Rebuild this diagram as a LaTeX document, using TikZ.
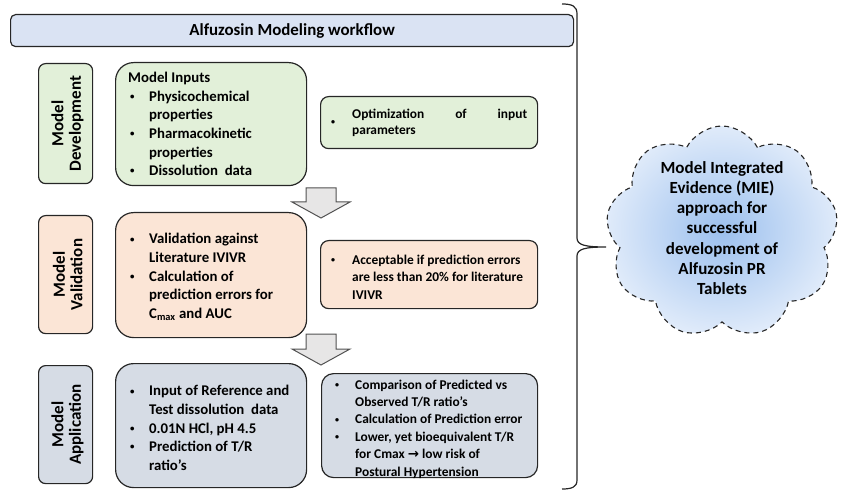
\documentclass[tikz,border=0pt]{standalone}
\usepackage{fontspec}
\setmainfont{Carlito}
\newfontfamily\djv{DejaVu Sans}
\usetikzlibrary{shapes.symbols,calc}
\definecolor{titleblue}{HTML}{DAE3F3}
\definecolor{devgreen}{HTML}{E2F0D9}
\definecolor{valpeach}{HTML}{FBE5D6}
\definecolor{appgray}{HTML}{D6DCE5}
\definecolor{arrowgray}{HTML}{E7E6E6}
\definecolor{cloudin}{HTML}{9CC0EE}
\definecolor{cloudout}{HTML}{E0EBFA}
\definecolor{edge}{HTML}{262626}
\newcommand{\dotb}{\raisebox{0.12em}{\scalebox{0.6}{\textbullet}}}
\newcommand{\bl}{\makebox[21pt][l]{\hspace{2pt}\dotb}}
\newcommand{\ind}{\hspace*{21pt}}
\newcommand{\blr}{\makebox[21pt][l]{\dotb}}
\newcommand{\blc}{\makebox[20pt][l]{\dotb}}
\newcommand{\indc}{\hspace*{20pt}}
\begin{document}
\begin{tikzpicture}[x=1pt,y=-1pt,
  panel/.style={draw=edge, line width=1.2pt, inner sep=0pt, anchor=north west},
  mainfs/.style={font=\bfseries\fontsize{14.8}{18.6}\selectfont},
  sidefs/.style={font=\bfseries\fontsize{13.4}{17.4}\selectfont},
  labelfs/.style={font=\bfseries\fontsize{17}{17.5}\selectfont},
  txt/.style={inner sep=0pt, align=left, anchor=west},
  blockarrow/.style={draw=edge!80, line width=1pt, fill=arrowgray, line join=miter}]
\useasboundingbox (0,0) rectangle (850,502);

% title
\node[panel, fill=titleblue, rounded corners=5pt, minimum width=563pt, minimum height=32pt] (title) at (10,14) {};
\node[font=\bfseries\fontsize{16.9}{18}\selectfont, inner sep=0pt] (titletxt) at (title.center) {Alfuzosin Modeling workflow};

% stage labels
\node[panel, fill=devgreen, rounded corners=7pt, minimum width=54pt, minimum height=120pt] (ldev) at (38,63) {};
\node[labelfs, rotate=90, align=center, inner sep=0pt] (ldevt) at ($(ldev.center)+(2,0)$) {Model\\Development};
\node[panel, fill=valpeach, rounded corners=7pt, minimum width=54pt, minimum height=118pt] (lval) at (38,215) {};
\node[labelfs, rotate=90, align=center, inner sep=0pt] (lvalt) at ($(lval.center)+(2,0)$) {Model\\Validation};
\node[panel, fill=appgray, rounded corners=7pt, minimum width=54pt, minimum height=118pt] (lapp) at (38,365) {};
\node[labelfs, rotate=90, align=center, inner sep=0pt] (lappt) at ($(lapp.center)+(2,0)$) {Model\\Application};

% main boxes
\node[panel, fill=devgreen, rounded corners=18pt, minimum width=191pt, minimum height=123pt] (dev) at (115,62) {};
\node[txt, mainfs] (devt) at (128,124) {Model Inputs\\
\bl Physicochemical\\ \ind properties\\ \bl Pharmacokinetic\\ \ind properties\\ \bl Dissolution\ \ data};
\node[panel, fill=valpeach, rounded corners=18pt, minimum width=191pt, minimum height=125pt] (val) at (115,212) {};
\node[txt, mainfs] (valt) at (128,277) {\bl Validation against\\ \ind Literature IVIVR\\ \bl Calculation of\\ \ind prediction errors for\\ \ind C\textsubscript{max} and AUC};
\node[panel, fill=appgray, rounded corners=18pt, minimum width=191pt, minimum height=124pt] (app) at (115,363) {};
\node[txt, mainfs] (appt) at (128,428) {\bl Input of Reference and\\ \ind Test dissolution\ \ data\\ \bl 0.01N HCl, pH 4.5\\ \bl Prediction of T/R\\ \ind ratio’s};

% side boxes
\node[panel, fill=devgreen, rounded corners=8pt, minimum width=217pt, minimum height=52pt] (opt) at (320,96) {};
\node[txt, font=\bfseries\fontsize{13.4}{16.5}\selectfont] (optt) at (331,123) {\blr\parbox[c]{175pt}{Optimization\hfill of\hfill input\\parameters}};
\node[panel, fill=valpeach, rounded corners=8pt, minimum width=217pt, minimum height=68pt] (acc) at (320,240) {};
\node[txt, sidefs] (acct) at (331,277) {\blr Acceptable if prediction errors\\ \hspace*{21pt}are less than 20\% for literature\\ \hspace*{21pt}IVIVR};
\node[panel, fill=appgray, rounded corners=12pt, minimum width=216pt, minimum height=104pt] (cmp) at (321,373) {};
\node[txt, sidefs] (cmpt) at (335,429) {\blc Comparison of Predicted vs\\ \indc Observed T/R ratio’s\\ \blc Calculation of Prediction error\\ \blc Lower, yet bioequivalent T/R\\ \indc for Cmax {\djv\bfseries →} low risk of\\ \indc Postural Hypertension};

% block arrows
\coordinate (a1) at (321,188);
\coordinate (a2) at (321,334);
\draw[blockarrow] ($(a1)+(-15,0)$) -- ++(30,0) -- ++(0,14) -- ++(14,0) -- ($(a1)+(0,30)$) -- ($(a1)+(-29,14)$) -- ($(a1)+(-15,14)$) -- cycle;
\draw[blockarrow] ($(a2)+(-15,0)$) -- ++(30,0) -- ++(0,15) -- ++(14,0) -- ($(a2)+(0,31)$) -- ($(a2)+(-29,15)$) -- ($(a2)+(-15,15)$) -- cycle;

% cloud
\node[cloud, cloud puffs=9, cloud puff arc=125, cloud ignores aspect, draw=edge, dashed, dash pattern=on 5pt off 4pt, line width=1.1pt, minimum width=232pt, minimum height=212pt, inner sep=0pt, inner color=cloudin, outer color=cloudout, shape border rotate=10] (mie) at (722,232) {};
\node[align=center, inner sep=0pt, font=\bfseries\fontsize{17}{20.2}\selectfont] (miet) at (722,228) {Model Integrated\\Evidence (MIE)\\approach for\\successful\\development of\\Alfuzosin PR\\Tablets};

% brace
\coordinate (btop) at (562,4);
\coordinate (btip) at (606,247);
\coordinate (bbot) at (562,489);
\draw[edge, line width=1.2pt] (btop) .. controls (572,4) and (577,6) .. (577,14) -- (577,238) .. controls (577,245) and (585,247) .. (btip) .. controls (585,247) and (577,249) .. (577,256) -- (577,480) .. controls (577,487) and (572,489) .. (bbot);
\end{tikzpicture}
\end{document}
